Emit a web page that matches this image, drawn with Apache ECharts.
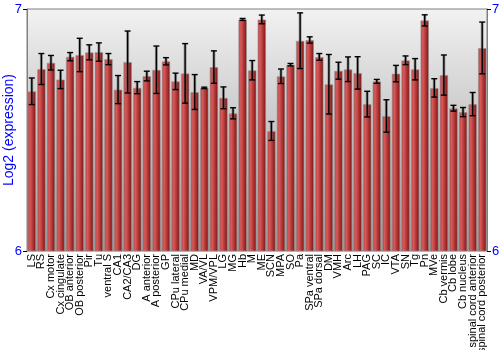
<!DOCTYPE html>
<html>
<head>
<meta charset="utf-8">
<script src="https://cdn.jsdelivr.net/npm/echarts@6/dist/echarts.min.js"></script>
<style>html,body{margin:0;padding:0;background:#fff}#c{width:500px;height:350px}</style>
</head>
<body>
<div id="c"></div>
<script>
const categories = ["LS","RS","Cx motor","Cx cingulate","OB anterior","OB posterior","Pir","Tu","ventral S","CA1","CA2/CA3","DG","A anterior","A posterior","GP","CPu lateral","CPu medial","MD","VA/VL","VPM/VPL","LG","MG","Hb","M","ME","SCN","MPA","SO","Pa","SPa ventral","SPa dorsal","DM","VMH","Arc","LH","PAG","SC","IC","VTA","SN","Tg","Pn","MVe","Cb vermis","Cb lobe","Cb nucleus","spinal cord anterior","spinal cord posterior"];
const values = [6.660,6.752,6.778,6.709,6.803,6.810,6.821,6.822,6.793,6.667,6.781,6.675,6.723,6.749,6.784,6.701,6.734,6.657,6.674,6.760,6.633,6.569,6.957,6.747,6.957,6.496,6.722,6.770,6.869,6.872,6.802,6.689,6.745,6.751,6.736,6.607,6.701,6.558,6.733,6.788,6.751,6.953,6.674,6.727,6.590,6.574,6.607,6.839];
const errors = [0.055,0.064,0.030,0.038,0.017,0.069,0.031,0.038,0.023,0.058,0.128,0.025,0.020,0.098,0.015,0.034,0.123,0.072,0.003,0.067,0.045,0.023,0.004,0.040,0.018,0.039,0.030,0.005,0.115,0.013,0.014,0.123,0.035,0.051,0.067,0.053,0.008,0.067,0.034,0.018,0.044,0.023,0.038,0.083,0.012,0.019,0.048,0.107];
const yTicks = [6, 7];

const chart = echarts.init(document.getElementById('c'));
const errData = values.map((v, i) => [i, v - errors[i], v + errors[i]]);
const axisLbl = {color: '#0000ff', fontFamily: 'Liberation Sans', fontSize: 13, margin: 5};
chart.setOption({
  animation: false,
  grid: {left: 27, right: 13, top: 9, bottom: 99, containLabel: false, outerBoundsMode: 'none',
    show: true, borderColor: '#808080', borderWidth: 1,
    backgroundColor: new echarts.graphic.LinearGradient(0, 0, 0, 1, [{offset: 0, color: '#f2f2f2'}, {offset: 1, color: '#9a9a9a'}])},
  xAxis: {type: 'category', data: categories,
    axisLine: {show: false}, axisTick: {show: false},
    axisLabel: {rotate: 90, interval: 0, color: '#000', fontFamily: 'Liberation Sans', fontSize: 11, margin: 3}},
  yAxis: [
    {type: 'value', min: yTicks[0], max: yTicks[1], interval: 1, position: 'left',
     name: 'Log2 (expression)', nameLocation: 'middle', nameGap: 11, nameMoveOverlap: false,
     nameTextStyle: {color: '#0000ff', fontFamily: 'Liberation Sans', fontSize: 14},
     axisLine: {show: true, lineStyle: {color: '#808080'}},
     axisTick: {show: true, length: 4, lineStyle: {color: '#000'}},
     splitLine: {show: false},
     axisLabel: axisLbl},
    {type: 'value', min: yTicks[0], max: yTicks[1], interval: 1, position: 'right',
     axisLine: {show: true, lineStyle: {color: '#808080'}},
     axisTick: {show: true, length: 4, lineStyle: {color: '#000'}},
     splitLine: {show: false},
     axisLabel: axisLbl}
  ],
  series: [
    {type: 'bar', data: values, barCategoryGap: '10%',
     itemStyle: {
       color: new echarts.graphic.LinearGradient(0, 0, 1, 0, [
         {offset: 0, color: '#b84040'}, {offset: 0.3, color: '#d65a5a'},
         {offset: 0.7, color: '#a82c2c'}, {offset: 1, color: '#6a1414'}]),
       borderColor: 'rgba(150,150,150,0.6)', borderWidth: 1}},
    {type: 'custom', data: errData, z: 5,
     renderItem: function (params, api) {
       const x = api.value(0);
       const lo = api.coord([x, api.value(1)]);
       const hi = api.coord([x, api.value(2)]);
       const hw = 3;
       const st = {stroke: '#000', lineWidth: 1.4};
       const sh = {stroke: 'rgba(90,90,90,0.5)', lineWidth: 3};
       return {type: 'group', children: [
         {type: 'line', shape: {x1: hi[0], y1: hi[1], x2: lo[0], y2: lo[1]}, style: sh},
         {type: 'line', shape: {x1: hi[0], y1: hi[1], x2: lo[0], y2: lo[1]}, style: st},
         {type: 'line', shape: {x1: hi[0] - hw, y1: hi[1], x2: hi[0] + hw, y2: hi[1]}, style: st},
         {type: 'line', shape: {x1: lo[0] - hw, y1: lo[1], x2: lo[0] + hw, y2: lo[1]}, style: st}
       ]};
     }}
  ]
});
</script>
</body>
</html>
